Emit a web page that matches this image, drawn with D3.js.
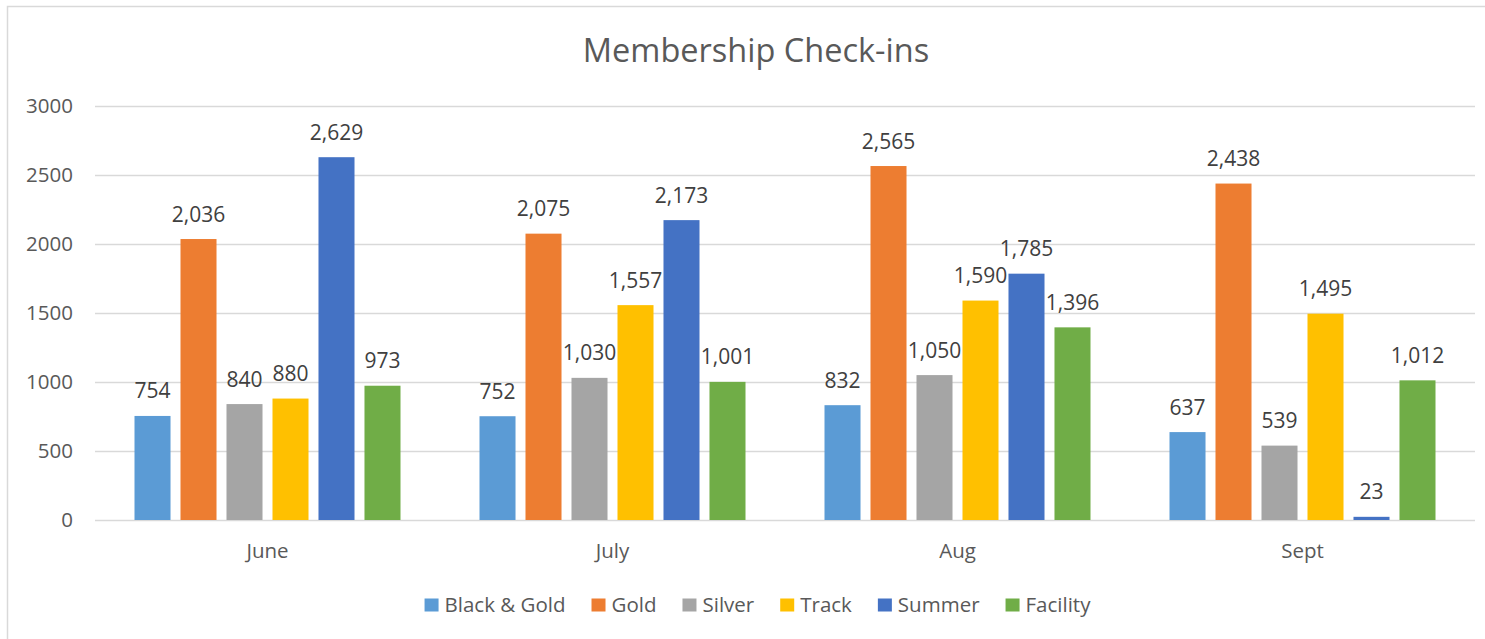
<!DOCTYPE html>
<html>
<head>
<meta charset="utf-8">
<script src="https://cdn.jsdelivr.net/npm/d3@7"></script>
<style>
  body { margin: 0; background: #fff; }
  svg { display: block; font-family: "Open Sans", sans-serif; }
</style>
</head>
<body>
<svg></svg>
<script>
// Dados do gráfico
const months = ["June", "July", "Aug", "Sept"];
const seriesNames = ["Black & Gold", "Gold", "Silver", "Track", "Summer", "Facility"];
const seriesColors = ["#5B9BD5", "#ED7D31", "#A5A5A5", "#FFC000", "#4472C4", "#70AD47"];
const blackGold = [754, 752, 832, 637];
const gold = [2036, 2075, 2565, 2438];
const silver = [840, 1030, 1050, 539];
const track = [880, 1557, 1590, 1495];
const summer = [2629, 2173, 1785, 23];
const facility = [973, 1001, 1396, 1012];
const yTicks = [0, 500, 1000, 1500, 2000, 2500, 3000];

const allSeries = [blackGold, gold, silver, track, summer, facility];

const width = 1485, height = 639;
const svg = d3.select("svg").attr("width", width).attr("height", height);

// Moldura do gráfico
svg.append("rect")
  .attr("x", 7.5).attr("y", 6.5)
  .attr("width", 1490).attr("height", 650)
  .attr("fill", "#fff")
  .attr("stroke", "#d9d9d9")
  .attr("stroke-width", 1.5);

const plot = { left: 95, right: 1475, top: 106, bottom: 520 };

// Escalas
const x0 = d3.scaleBand().domain(months).range([plot.left, plot.right]);
const x1 = d3.scaleBand().domain(seriesNames)
  .range([39.5, x0.bandwidth() - 39.5])
  .paddingInner(0.217);
const y = d3.scaleLinear().domain([0, 3000]).range([plot.bottom, plot.top]);

// Linhas de grelha
svg.append("g")
  .selectAll("line")
  .data(yTicks)
  .join("line")
  .attr("x1", plot.left).attr("x2", plot.right)
  .attr("y1", d => y(d) + 0.5).attr("y2", d => y(d) + 0.5)
  .attr("stroke", "#d9d9d9")
  .attr("stroke-width", 1.5);

// Eixo Y
const yAxis = svg.append("g")
  .attr("transform", `translate(${plot.left}, 0)`)
  .call(d3.axisLeft(y).tickValues(yTicks).tickFormat(d3.format("d")).tickSize(0).tickPadding(22));
yAxis.select(".domain").remove();
yAxis.selectAll("text")
  .attr("fill", "#595959")
  .style("font-size", "20.5px")
  .style("font-family", "'Open Sans', sans-serif");

// Eixo X
const xAxis = svg.append("g")
  .attr("transform", `translate(0, ${plot.bottom})`)
  .call(d3.axisBottom(x0).tickSize(0).tickPadding(0));
xAxis.select(".domain").remove();
xAxis.selectAll("text")
  .attr("y", 38).attr("dy", null)
  .attr("fill", "#595959")
  .style("font-size", "20.5px")
  .style("font-family", "'Open Sans', sans-serif");

// Barras
const groups = svg.append("g")
  .selectAll("g")
  .data(months)
  .join("g")
  .attr("transform", d => `translate(${x0(d)}, 0)`);

const fmt = d3.format(",");

groups.selectAll("rect")
  .data((m, i) => seriesNames.map((s, j) => ({ s, j, v: allSeries[j][i] })))
  .join("rect")
  .attr("x", d => x1(d.s))
  .attr("width", x1.bandwidth())
  .attr("y", d => y(d.v))
  .attr("height", d => plot.bottom - y(d.v))
  .attr("fill", d => seriesColors[d.j]);

groups.selectAll("text")
  .data((m, i) => seriesNames.map((s, j) => ({ s, j, v: allSeries[j][i] })))
  .join("text")
  .attr("x", d => x1(d.s) + x1.bandwidth() / 2)
  .attr("y", d => y(d.v) - 17.5)
  .attr("text-anchor", "middle")
  .attr("fill", "#404040")
  .style("font-size", "21px")
  .text(d => fmt(d.v));

// Título
svg.append("text")
  .attr("x", 756).attr("y", 62)
  .attr("text-anchor", "middle")
  .attr("fill", "#595959")
  .style("font-size", "32.5px")
  .text("Membership Check-ins");

// Legenda
const legend = svg.append("g").attr("transform", "translate(0, 605)");
const items = legend.selectAll("g")
  .data(seriesNames)
  .join("g");
items.append("rect")
  .attr("y", -6.5).attr("width", 14).attr("height", 13)
  .attr("fill", (d, i) => seriesColors[i]);
items.append("text")
  .attr("x", 20).attr("dy", "0.35em")
  .attr("fill", "#595959")
  .style("font-size", "20.5px")
  .text(d => d);

// Posicionar os itens da legenda em linha, centrados
let cursor = 0;
const offsets = [];
items.each(function() {
  const w = d3.select(this).select("text").node().getComputedTextLength();
  offsets.push(cursor);
  cursor += 20 + w + 26;
});
const total = cursor - 26;
const startX = 757.5 - total / 2;
items.attr("transform", (d, i) => `translate(${startX + offsets[i]}, 0)`);
</script>
</body>
</html>
